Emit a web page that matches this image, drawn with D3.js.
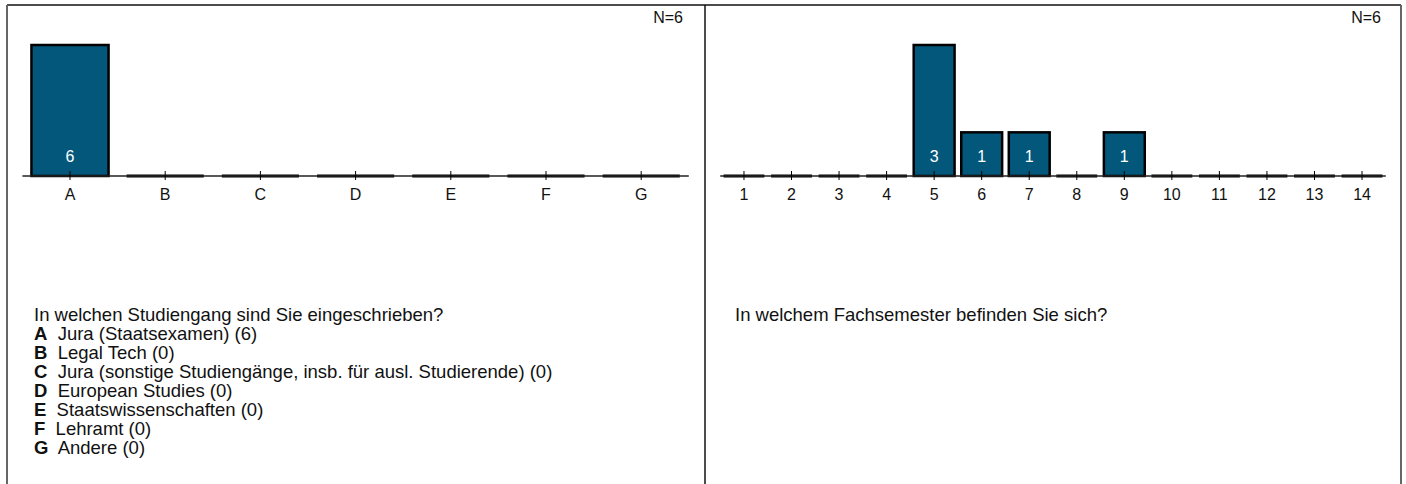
<!DOCTYPE html>
<html>
<head>
<meta charset="utf-8">
<script src="https://cdn.jsdelivr.net/npm/d3@7"></script>
<style>
  body { margin: 0; background: #fff; }
  text { font-family: "Liberation Sans", Arial, sans-serif; }
</style>
</head>
<body>
<div id="chart"></div>
<script>
const WIDTH  = 1406
const HEIGHT = 484
const BAR_FILL = '#02577b'

// left panel: Studiengang
const studyCats   = ['A', 'B', 'C', 'D', 'E', 'F', 'G']
const studyCounts = [6, 0, 0, 0, 0, 0, 0]
const studyQuestion = 'In welchen Studiengang sind Sie eingeschrieben?'
const studyLabels = [
    'Jura (Staatsexamen) (6)',
    'Legal Tech (0)',
    'Jura (sonstige Studiengänge, insb. für ausl. Studierende) (0)',
    'European Studies (0)',
    'Staatswissenschaften (0)',
    'Lehramt (0)',
    'Andere (0)'
]

// right panel: Fachsemester
const semCats   = ['1', '2', '3', '4', '5', '6', '7', '8', '9', '10', '11', '12', '13', '14']
const semCounts = [0, 0, 0, 0, 3, 1, 1, 0, 1, 0, 0, 0, 0, 0]
const semQuestion = 'In welchem Fachsemester befinden Sie sich?'

const svg = d3.select('#chart').append('svg')
    .attr('width', WIDTH)
    .attr('height', HEIGHT)

// frame
svg.append('line').attr('x1', 7).attr('x2', 1401).attr('y1', 5).attr('y2', 5)
    .attr('stroke', '#111').attr('stroke-width', 1.5)
svg.append('line').attr('x1', 7).attr('x2', 7).attr('y1', 5).attr('y2', HEIGHT)
    .attr('stroke', '#666').attr('stroke-width', 2)
svg.append('line').attr('x1', 1401).attr('x2', 1401).attr('y1', 5).attr('y2', HEIGHT)
    .attr('stroke', '#666').attr('stroke-width', 2)
svg.append('line').attr('x1', 705).attr('x2', 705).attr('y1', 5).attr('y2', HEIGHT)
    .attr('stroke', '#111').attr('stroke-width', 1.5)

const BASE = 176
const TOP  = 45

const panel = (cats, counts, x0, x1, padding, nX) => {
    const g = svg.append('g')

    const x = d3.scaleBand().domain(cats).range([x0, x1])
        .paddingInner(padding).paddingOuter(padding / 2)
    const y = d3.scaleLinear().domain([0, d3.max(counts)]).range([BASE, TOP])
    const data = cats.map((c, i) => ({ c, v: counts[i] }))

    g.selectAll('.bar').data(data.filter(d => d.v > 0)).enter().append('rect')
        .attr('x', d => x(d.c))
        .attr('y', d => y(d.v))
        .attr('width', x.bandwidth())
        .attr('height', d => y(0) - y(d.v))
        .attr('fill', BAR_FILL)
        .attr('stroke', '#000')
        .attr('stroke-width', 2.5)

    g.selectAll('.zero').data(data.filter(d => d.v === 0)).enter().append('line')
        .attr('x1', d => x(d.c))
        .attr('x2', d => x(d.c) + x.bandwidth())
        .attr('y1', y(0)).attr('y2', y(0))
        .attr('stroke', '#000')
        .attr('stroke-width', 3)

    g.append('line').attr('x1', x0).attr('x2', x1).attr('y1', BASE).attr('y2', BASE)
        .attr('stroke', '#222').attr('stroke-width', 1.5)

    g.selectAll('.tick').data(cats).enter().append('line')
        .attr('x1', d => x(d) + x.bandwidth() / 2)
        .attr('x2', d => x(d) + x.bandwidth() / 2)
        .attr('y1', BASE - 5).attr('y2', BASE + 4)
        .attr('stroke', '#000').attr('stroke-width', 1)

    g.selectAll('.cat').data(cats).enter().append('text')
        .attr('x', d => x(d) + x.bandwidth() / 2)
        .attr('y', 200)
        .attr('text-anchor', 'middle')
        .attr('font-size', 16)
        .attr('fill', '#111')
        .text(d => d)

    g.selectAll('.val').data(data.filter(d => d.v > 0)).enter().append('text')
        .attr('x', d => x(d.c) + x.bandwidth() / 2)
        .attr('y', 162)
        .attr('text-anchor', 'middle')
        .attr('font-size', 16)
        .attr('fill', '#fff')
        .text(d => d.v)

    g.append('text')
        .attr('x', nX).attr('y', 23)
        .attr('text-anchor', 'end')
        .attr('font-size', 16)
        .attr('fill', '#111')
        .text('N=' + d3.sum(counts))
}

panel(studyCats, studyCounts, 22.4, 688.8, 0.19, 683)
panel(semCats, semCounts, 720.2, 1385.8, 0.14, 1381)

// question texts
const FS = 18.5
svg.append('text').attr('x', 34).attr('y', 321).attr('font-size', FS).attr('fill', '#111')
    .text(studyQuestion)

const legend = svg.append('g')
studyCats.forEach((c, i) => {
    const t = legend.append('text')
        .attr('x', 34).attr('y', 340 + i * 19)
        .attr('font-size', FS).attr('fill', '#111')
    t.append('tspan').attr('font-weight', 'bold').text(c)
    t.append('tspan').text('\u00a0 ' + studyLabels[i])
})

svg.append('text').attr('x', 735).attr('y', 321).attr('font-size', FS).attr('fill', '#111')
    .text(semQuestion)
</script>
</body>
</html>
